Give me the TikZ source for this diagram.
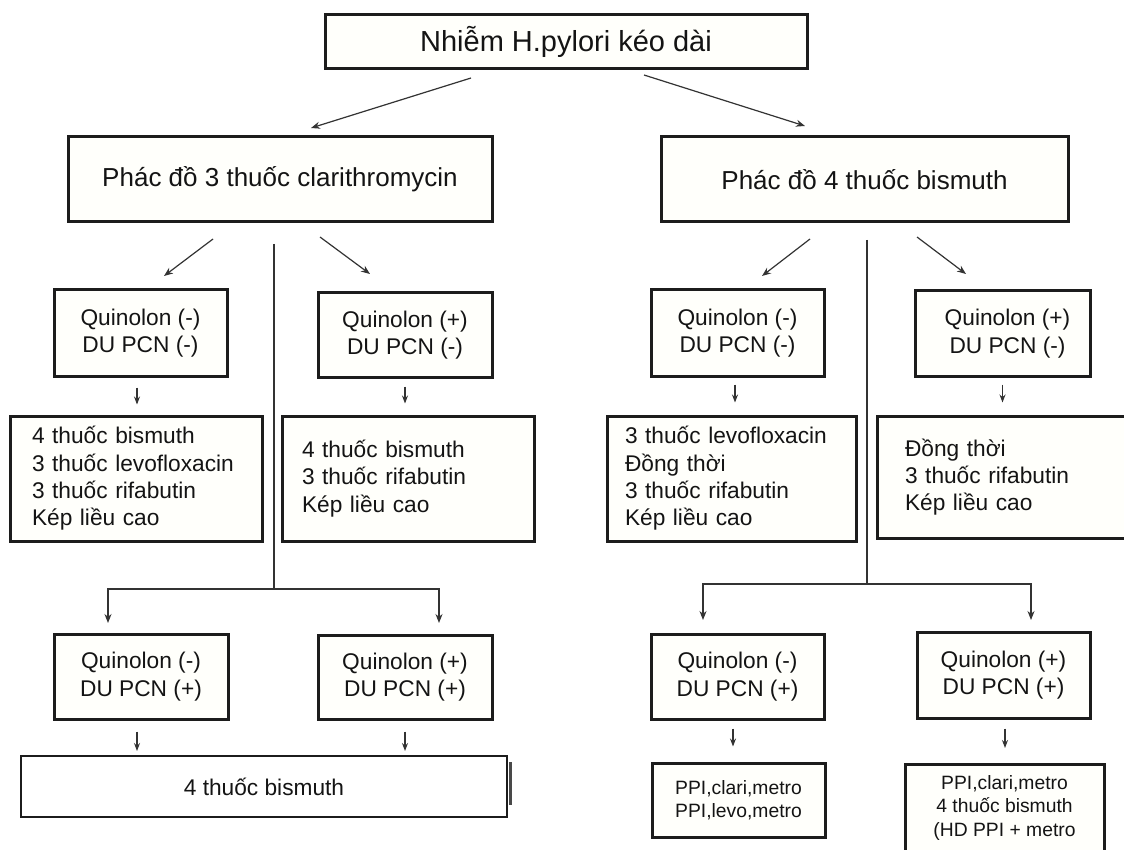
\documentclass[tikz,border=0pt]{standalone}
\usepackage{fontspec}
\setmainfont{Liberation Sans}
\usetikzlibrary{arrows.meta}
\definecolor{boxline}{HTML}{1C1C1C}
\definecolor{boxfill}{HTML}{FFFFFB}
\definecolor{wire}{HTML}{333333}
\begin{document}
\begin{tikzpicture}[x=1pt,y=-1pt,
  box/.style={draw=boxline,line width=3pt,fill=boxfill,inner sep=0pt,text=black!92,align=center},
  thinbox/.style={box,line width=2pt,fill=white},
  big/.style={font=\fontsize{29}{34}\selectfont},
  mid/.style={font=\fontsize{26}{30}\selectfont},
  txt/.style={font=\fontsize{22.7}{27.3}\selectfont},
  small/.style={font=\fontsize{19.3}{23.5}\selectfont},
  arr/.style={draw=wire,line width=1.2pt,-{Stealth[length=9pt,width=7pt]}},
  tick/.style={draw=wire,line width=1.1pt,-{Stealth[length=8pt,width=6pt]}},
  wireline/.style={draw=wire,line width=1.2pt}]
\useasboundingbox (0,0) rectangle (1124,850);
\fill[white] (0,0) rectangle (1124,850);

% ---- top level
\node[box,big,minimum width=482pt,minimum height=54pt] (top) at (566,42) {Nhiễm H.pylori kéo dài};
\node[box,mid,minimum width=424pt,minimum height=85pt] (c3) at (280,179.5) {Phác đồ 3 thuốc clarithromycin};
\node[box,mid,minimum width=407pt,minimum height=85pt] (b4) at (864.5,179.5) {Phác đồ 4 thuốc bismuth};

% ---- clarithromycin branch, second level
\node[box,txt,minimum width=173pt,minimum height=86pt] (q1) at (140.5,333) {Quinolon (-)\\DU PCN (-)};
\node[box,txt,minimum width=174pt,minimum height=84pt] (q2) at (405,335) {Quinolon (+)\\DU PCN (-)};
\node[box,txt,minimum width=252pt,minimum height=125pt,text width=208pt,align=left] (r1) at (136,478.5)
  {4 thuốc bismuth\\3 thuốc levofloxacin\\3 thuốc rifabutin\\Kép liều cao};
\node[box,txt,minimum width=252pt,minimum height=125pt,text width=212pt,align=left] (r2) at (408,478.5)
  {4 thuốc bismuth\\3 thuốc rifabutin\\Kép liều cao};

% ---- bismuth branch, second level
\node[box,txt,minimum width=173pt,minimum height=86pt] (q3) at (737.5,333) {Quinolon (-)\\DU PCN (-)};
\node[box,txt,minimum width=175pt,minimum height=85pt] (q4) at (1002.5,333.5) {\hspace*{10pt}Quinolon (+)\\\hspace*{10pt}DU PCN (-)};
\node[box,txt,minimum width=249pt,minimum height=125pt,text width=213pt,align=left] (r3) at (731.5,478.5)
  {3 thuốc levofloxacin\\Đồng thời\\3 thuốc rifabutin\\Kép liều cao};
\node[box,txt,minimum width=263pt,minimum height=122pt,text width=207pt,align=left] (r4) at (1008.5,477)
  {Đồng thời\\3 thuốc rifabutin\\Kép liều cao};

% ---- third level
\node[box,txt,minimum width=174pt,minimum height=85pt] (q5) at (141,676.5) {Quinolon (-)\\DU PCN (+)};
\node[box,txt,minimum width=174pt,minimum height=84pt] (q6) at (405,677) {Quinolon (+)\\DU PCN (+)};
\node[thinbox,txt,minimum width=486pt,minimum height=61pt] (bb) at (264,786.5) {4 thuốc bismuth};
\draw[boxline!80,line width=3pt] (510,762) -- (510,805);

\node[box,txt,minimum width=173pt,minimum height=85pt] (q7) at (737.5,676.5) {Quinolon (-)\\DU PCN (+)};
\node[box,txt,minimum width=173pt,minimum height=86pt] (q8) at (1003.5,675) {Quinolon (+)\\DU PCN (+)};
\node[box,small,minimum width=173pt,minimum height=74pt] (p1) at (738.5,800) {PPI,clari,metro\\PPI,levo,metro};
\node[box,small,minimum width=199pt,inner ysep=11pt,anchor=north] (p2) at (1004.5,763)
  {PPI,clari,metro\\4 thuốc bismuth\\(HD PPI + metro\\[2pt]\strut};

% ---- connector end points
\coordinate (tl0) at (471,78);  \coordinate (tl1) at (311,128);
\coordinate (tr0) at (644,75);  \coordinate (tr1) at (805,126);
\coordinate (cl0) at (213,239); \coordinate (cl1) at (164,276);
\coordinate (cr0) at (320,237); \coordinate (cr1) at (370,274);
\coordinate (bl0) at (810,239); \coordinate (bl1) at (762,276);
\coordinate (br0) at (917,237); \coordinate (br1) at (966,274);
\coordinate (ct0) at (274,244); \coordinate (ct1) at (274,589);
\coordinate (cjl) at (108,589); \coordinate (cjr) at (439,589);
\coordinate (ctl) at (108,623); \coordinate (ctr) at (439,623);
\coordinate (bt0) at (867,240); \coordinate (bt1) at (867,584);
\coordinate (bjl) at (703,584); \coordinate (bjr) at (1031,584);
\coordinate (btl) at (703,620); \coordinate (btr) at (1031,620);

% ---- connectors
\draw[arr] (tl0) -- (tl1);
\draw[arr] (tr0) -- (tr1);
\draw[arr] (cl0) -- (cl1);
\draw[arr] (cr0) -- (cr1);
\draw[arr] (bl0) -- (bl1);
\draw[arr] (br0) -- (br1);

\draw[wireline] (ct0) -- (ct1);
\draw[arr] (ct1) -- (cjl) -- (ctl);
\draw[arr] (ct1) -- (cjr) -- (ctr);
\draw[wireline] (bt0) -- (bt1);
\draw[arr] (bt1) -- (bjl) -- (btl);
\draw[arr] (bt1) -- (bjr) -- (btr);

% short downward ticks between boxes
\draw[tick] ([xshift=-3.5pt,yshift=-10pt]q1.south) -- ([xshift=-3.5pt,yshift=10pt]q1.south |- r1.north);
\draw[tick] ([yshift=-8pt]q2.south) -- ([yshift=11pt]q2.south |- r2.north);
\draw[tick] ([xshift=-2.5pt,yshift=-7pt]q3.south) -- ([xshift=-2.5pt,yshift=12pt]q3.south |- r3.north);
\draw[tick] ([yshift=-7pt]q4.south) -- ([yshift=12pt]q4.south |- r4.north);
\draw[tick] ([xshift=-4pt,yshift=-11pt]q5.south) -- ([xshift=-4pt,yshift=4pt]q5.south |- bb.north);
\draw[tick] ([yshift=-11pt]q6.south) -- ([yshift=4pt]q6.south |- bb.north);
\draw[tick] ([xshift=-4.5pt,yshift=-8pt]q7.south) -- ([xshift=-4.5pt,yshift=15pt]q7.south |- p1.north);
\draw[tick] ([xshift=1.5pt,yshift=-9pt]q8.south) -- ([xshift=1.5pt,yshift=15pt]q8.south |- p2.north);
\end{tikzpicture}
\end{document}
